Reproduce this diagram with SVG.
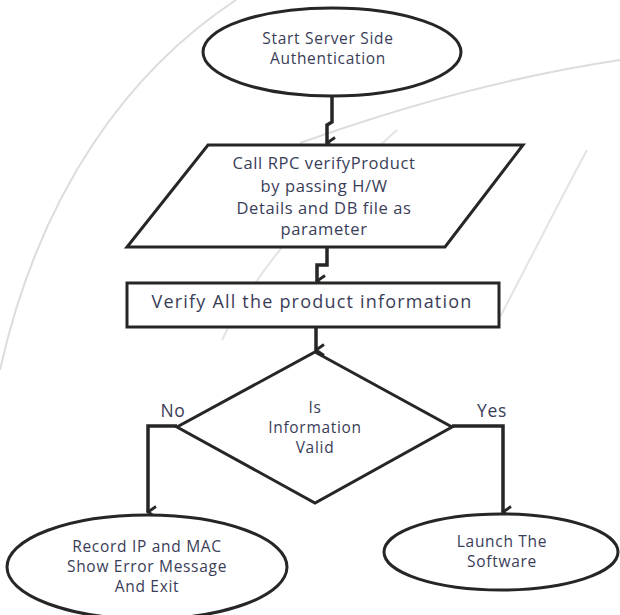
<svg xmlns="http://www.w3.org/2000/svg" width="620" height="615" viewBox="0 0 620 615">
  <defs>
    <style>
      .shape { fill: #ffffff; stroke: #262626; stroke-width: 3; stroke-linejoin: miter; }
      .wire { fill: none; stroke: #262626; stroke-width: 3.5; stroke-linejoin: miter; }
      .label { font-family: "Open Sans", "Liberation Sans", sans-serif; font-size: 16.5px; letter-spacing: 0.6px; fill: #3a3d58; text-anchor: middle; dominant-baseline: central; }
      .small { font-size: 15.5px; letter-spacing: 0.7px; }
      .big { font-size: 18px; letter-spacing: 1.2px; }
      .branch { font-size: 17.5px; }
      .faint { fill: none; stroke: #dcdcdc; stroke-width: 2; }
    </style>
    <marker id="arrow" viewBox="0 0 14 14" refX="7" refY="12" markerWidth="14" markerHeight="14" markerUnits="userSpaceOnUse" orient="auto">
      <path d="M1.5,4 L7,12 L12.5,4" fill="none" stroke="#262626" stroke-width="2.8"/>
    </marker>
  </defs>

  <rect width="620" height="615" fill="#ffffff"/>

  <!-- faint background arcs -->
  <g id="backdrop">
    <path class="faint" d="M236,0 C130,70 40,190 0,370"/>
    <path class="faint" d="M620,60 C520,75 420,100 300,143"/>
    <path class="faint" d="M397,130 C330,190 260,260 222,340" opacity="0.8"/>
    <path class="faint" d="M587,150 C560,200 530,260 500,317" opacity="0.8"/>
  </g>

  <g id="connectors">
    <path class="wire" d="M332,97 L332,122 L327,125 L327,143" marker-end="url(#arrow)"/>
    <path class="wire" d="M327,247 L327,265 L317,265 L317,281" marker-end="url(#arrow)"/>
    <path class="wire" d="M316,328 L316,350" marker-end="url(#arrow)"/>
    <path class="wire" d="M177,426 L148,426 L148,512" marker-end="url(#arrow)"/>
    <path class="wire" d="M452,426 L503,426 L503,512" marker-end="url(#arrow)"/>
  </g>

  <g id="start">
    <ellipse class="shape" cx="332" cy="52" rx="129" ry="44"/>
    <text class="label small" x="328" y="38">Start Server Side</text>
    <text class="label small" x="328" y="58">Authentication</text>
  </g>

  <g id="call-rpc">
    <polygon class="shape" points="208,145 523,145 445,247 127,247"/>
    <text class="label" x="324" y="162">Call RPC verifyProduct</text>
    <text class="label" x="324" y="185">by passing H/W</text>
    <text class="label" x="324" y="207">Details and DB file as</text>
    <text class="label" x="324" y="228">parameter</text>
  </g>

  <g id="verify">
    <rect class="shape" x="127" y="283" width="372" height="44"/>
    <text class="label big" x="312" y="301">Verify All the product information</text>
  </g>

  <g id="decision">
    <polygon class="shape" points="315,352 452,427 315,503 177,427"/>
    <text class="label small" x="315" y="407">Is</text>
    <text class="label small" x="315" y="427">Information</text>
    <text class="label small" x="315" y="447">Valid</text>
    <text class="label branch" x="173" y="410">No</text>
    <text class="label branch" x="492" y="410">Yes</text>
  </g>

  <g id="record-exit">
    <ellipse class="shape" cx="147" cy="567" rx="140" ry="52"/>
    <text class="label small" x="147" y="546">Record IP and MAC</text>
    <text class="label small" x="147" y="566">Show Error Message</text>
    <text class="label small" x="147" y="586">And Exit</text>
  </g>

  <g id="launch">
    <ellipse class="shape" cx="501" cy="552" rx="117" ry="38"/>
    <text class="label small" x="502" y="541">Launch The</text>
    <text class="label small" x="502" y="561">Software</text>
  </g>
</svg>
